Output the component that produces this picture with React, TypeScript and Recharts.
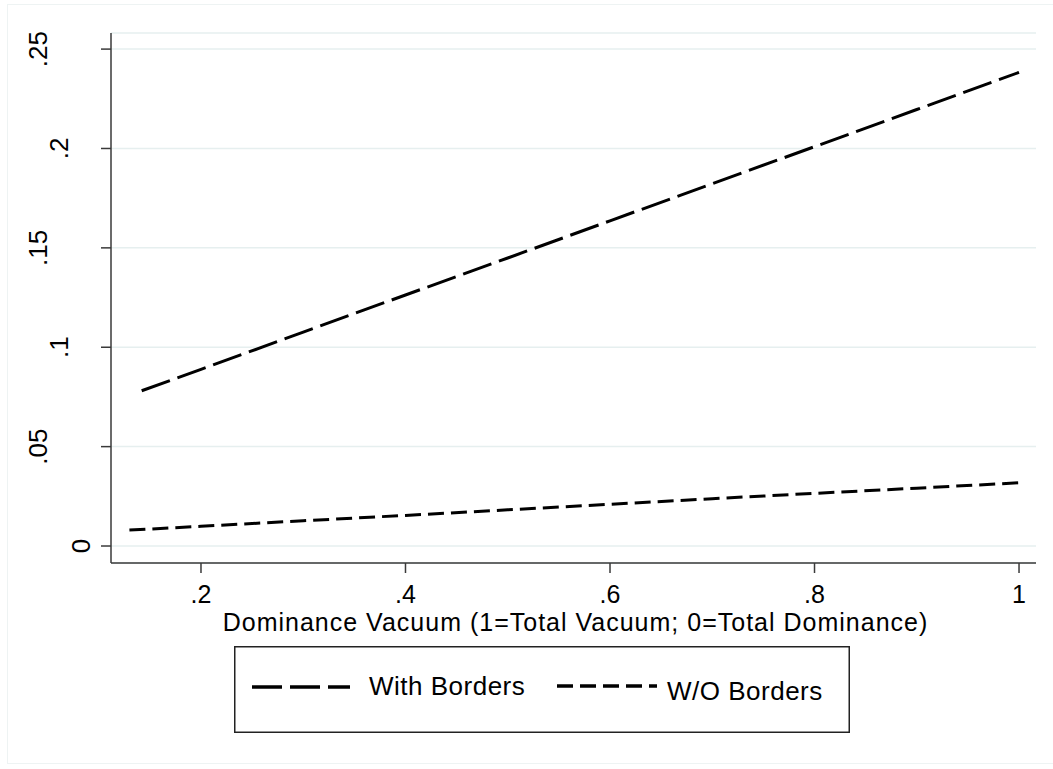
import React from 'react';
import { LineChart, Line, XAxis, YAxis, CartesianGrid, Legend } from 'recharts';

// ---- data ----
const withBordersX = [0.142, 0.2, 0.3, 0.4, 0.5, 0.6, 0.7, 0.8, 0.9, 1.0];
const withBordersY = [0.0781, 0.0889, 0.1076, 0.1263, 0.1449, 0.1636, 0.1823, 0.2009, 0.2196, 0.2383];
const withoutBordersX = [0.13, 0.2, 0.3, 0.4, 0.5, 0.6, 0.7, 0.8, 0.9, 1.0];
const withoutBordersY = [0.008, 0.0099, 0.0127, 0.0154, 0.0182, 0.021, 0.0238, 0.0265, 0.0291, 0.0318];
const seriesNames = ['With Borders', 'W/O Borders'];
const xTicks = [0.2, 0.4, 0.6, 0.8, 1];
const xTickLabels = ['.2', '.4', '.6', '.8', '1'];
const yTicks = [0, 0.05, 0.1, 0.15, 0.2, 0.25];
const yTickLabels = ['0', '.05', '.1', '.15', '.2', '.25'];
const xTitle = 'Dominance Vacuum (1=Total Vacuum; 0=Total Dominance)';

const withData = withBordersX.map((x, i) => ({ x, y: withBordersY[i] }));
const withoutData = withoutBordersX.map((x, i) => ({ x, y: withoutBordersY[i] }));

const FONT = 'Arial, "Liberation Sans", Helvetica, sans-serif';
const AXIS_COLOR = '#3a3a3a';
const GRID_COLOR = '#E6EFEF';

const nearestLabel = (ticks: number[], labels: string[], v: number) => {
  let best = 0;
  ticks.forEach((t, i) => {
    if (Math.abs(t - v) < Math.abs(ticks[best] - v)) best = i;
  });
  return labels[best];
};

const YTick = (props: any) => {
  const { y, payload } = props;
  const label = nearestLabel(yTicks, yTickLabels, payload.value);
  const bx = 90 - 21.5 * (label.length - 1);
  return (
    <text
      x={bx}
      y={y}
      transform={`rotate(-90 ${bx} ${y})`}
      textAnchor="middle"
      fontSize={26}
      fontFamily={FONT}
      fill="#000"
    >
      {label}
    </text>
  );
};

const XTick = (props: any) => {
  const { x, payload } = props;
  const label = nearestLabel(xTicks, xTickLabels, payload.value);
  return (
    <text x={x} y={603} textAnchor="middle" fontSize={25} fontFamily={FONT} fill="#000">
      {label}
    </text>
  );
};

const XTitle = (props: any) => {
  const vb = props.viewBox || { x: 111, y: 563, width: 925 };
  return (
    <text
      x={vb.x + vb.width / 2 + 2}
      y={vb.y + 68}
      textAnchor="middle"
      fontSize={25}
      letterSpacing={1}
      fontFamily={FONT}
      fill="#000"
    >
      {xTitle}
    </text>
  );
};

const legendLayout = [
  { sx: 18, sw: 98, sy: 41, tx: 135, ty: 49 },
  { sx: 323, sw: 100, sy: 40, tx: 433, ty: 54 },
];
const legendDashes = ['30 8', '16 7'];

const renderLegend = (props: any) => {
  const payload = [...(props.payload || [])];
  payload.sort((a: any, b: any) => seriesNames.indexOf(a.value) - seriesNames.indexOf(b.value));
  return (
    <svg width={616} height={87} style={{ display: 'block' }}>
      <rect x={0.75} y={0.75} width={614.5} height={85.5} fill="#fff" stroke="#222" strokeWidth={1.5} />
      {payload.map((entry: any, i: number) => {
        const l = legendLayout[i] || legendLayout[0];
        const dash = entry.payload?.strokeDasharray ?? legendDashes[i];
        return (
          <g key={i}>
            <line
              x1={l.sx}
              x2={l.sx + l.sw}
              y1={l.sy}
              y2={l.sy}
              stroke="#000"
              strokeWidth={3.5}
              strokeDasharray={dash}
            />
            <text x={l.tx} y={l.ty} fontSize={26} letterSpacing={0.5} fontFamily={FONT} fill="#000">
              {entry.value}
            </text>
          </g>
        );
      })}
    </svg>
  );
};

export default function App() {
  return (
    <div style={{ position: 'absolute', left: 0, top: 0, width: 1053, height: 769, background: '#fff' }}>
      <div
        style={{
          position: 'absolute',
          left: 7,
          top: 4,
          width: 1050,
          height: 760,
          border: '1px solid #EEF3F3',
          boxSizing: 'border-box',
        }}
      />
      <div style={{ position: 'absolute', left: 0, top: 0 }}>
        <LineChart
          width={1053}
          height={769}
          margin={{ top: 33, right: 17, bottom: 146, left: 11 }}
        >
          <CartesianGrid vertical={false} stroke={GRID_COLOR} strokeWidth={1.5} />
          <XAxis
            type="number"
            dataKey="x"
            domain={[0.112, 1.0166]}
            ticks={xTicks}
            allowDataOverflow
            height={60}
            tickSize={10}
            axisLine={{ stroke: AXIS_COLOR, strokeWidth: 1.5 }}
            tickLine={{ stroke: AXIS_COLOR, strokeWidth: 1.5 }}
            tick={<XTick />}
            label={<XTitle />}
          />
          <YAxis
            type="number"
            dataKey="y"
            domain={[-0.00855, 0.2581]}
            ticks={yTicks}
            allowDataOverflow
            width={100}
            tickSize={10}
            axisLine={{ stroke: AXIS_COLOR, strokeWidth: 1.5 }}
            tickLine={{ stroke: AXIS_COLOR, strokeWidth: 1.5 }}
            tick={<YTick />}
          />
          <Legend
            layout="horizontal"
            verticalAlign="middle"
            align="center"
            itemSorter={null as any}
            wrapperStyle={{ position: 'absolute', left: 234, top: 646, width: 616, height: 87 }}
            content={renderLegend}
          />
          <Line
            data={withData}
            dataKey="y"
            name={seriesNames[0]}
            type="linear"
            stroke="#000"
            strokeWidth={3}
            strokeDasharray="30 8"
            dot={false}
            activeDot={false}
            isAnimationActive={false}
          />
          <Line
            data={withoutData}
            dataKey="y"
            name={seriesNames[1]}
            type="linear"
            stroke="#000"
            strokeWidth={3}
            strokeDasharray="16 7"
            dot={false}
            activeDot={false}
            isAnimationActive={false}
          />
        </LineChart>
      </div>
    </div>
  );
}
